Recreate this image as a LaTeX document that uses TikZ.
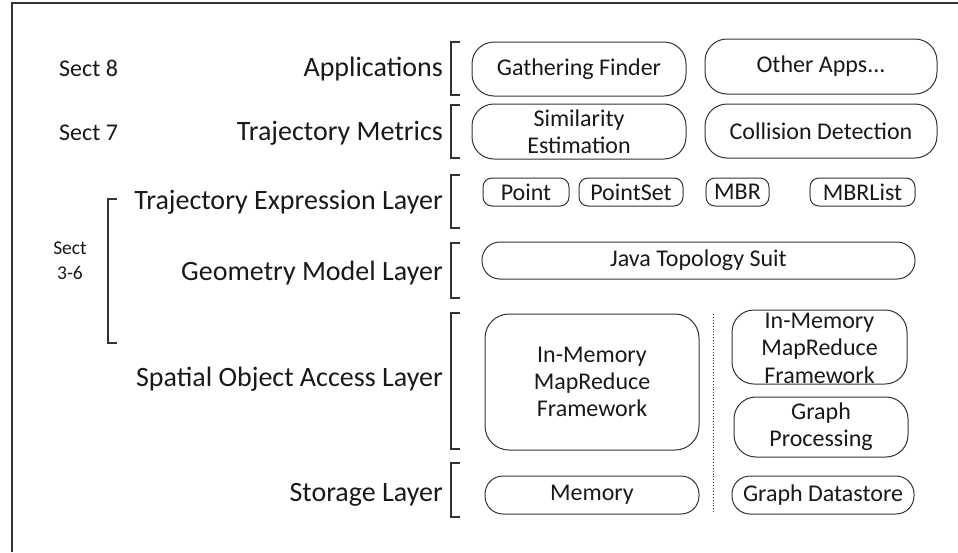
\documentclass[tikz,border=0pt]{standalone}
\usepackage{fontspec}
\setmainfont{Carlito}
\begin{document}
\begin{tikzpicture}[x=1pt,y=-1pt,
  ink/.style={color=black!90},
  layerlabel/.style={ink, anchor=base east, inner sep=0pt, font=\fontsize{28}{32}\selectfont},
  sectlabel/.style={ink, anchor=base west, inner sep=0pt, font=\fontsize{24}{28}\selectfont},
  smallsect/.style={ink, anchor=base, inner sep=0pt, font=\fontsize{19.5}{24}\selectfont},
  bracketline/.style={draw=black!80, line width=1.3pt},
  box/.style={draw=black!80, line width=1pt, rounded corners=#1, inner sep=0pt,
    align=center, text=black!90, font=\fontsize{24}{27}\selectfont},
  box/.default=20pt,
  boxtext/.style={inner sep=0pt, align=center, text=black!90, font=\fontsize{24}{27.5}\selectfont},
]
\useasboundingbox (0,0) rectangle (958,552);

% outer frame (left and top edges)
\draw[black!80, line width=2pt] (12,552) -- (12,3) -- (958,3);

% section labels
\node[sectlabel] (s8) at (59,76) {Sect 8};
\node[sectlabel] (s7) at (59,140) {Sect 7};
\node[smallsect] (s36a) at (70,254) {Sect};
\node[smallsect] (s36b) at (70,279) {3-6};
\draw[bracketline] (117,199) -- (108,199) -- (108,343) -- (117,343);

% layer labels
\node[layerlabel] (lapp) at (443,76) {Applications};
\node[layerlabel] (lmet) at (443,140) {Trajectory Metrics};
\node[layerlabel] (lexp) at (443,209) {Trajectory Expression Layer};
\node[layerlabel] (lgeo) at (443,280) {Geometry Model Layer};
\node[layerlabel] (lspa) at (443,386) {Spatial Object Access Layer};
\node[layerlabel] (lsto) at (443,501) {Storage Layer};

% layer brackets
\foreach \a/\b in {42/95, 105/158, 175/228, 243/298, 313/449, 463/517}
  \draw[bracketline] (460,\a) -- (451,\a) -- (451,\b) -- (460,\b);

% applications
\node[box=22pt, minimum width=214pt, minimum height=54pt] (gath) at (579,69) {Gathering Finder};
\node[box=22pt, minimum width=232pt, minimum height=55pt] (other) at (821,66.5) {Other Apps...};

% trajectory metrics
\node[box=22pt, minimum width=214pt, minimum height=55pt] (sim) at (579,131.5) {Similarity\\Estimation};
\node[box=22pt, minimum width=232pt, minimum height=54pt] (coll) at (821,131) {Collision Detection};

% trajectory expression
\node[box=9pt, minimum width=86pt, minimum height=28pt] (point) at (526,192) {Point};
\node[box=9pt, minimum width=104pt, minimum height=28pt] (pset) at (631,192) {PointSet};
\node[box=9pt, minimum width=63pt, minimum height=28pt] (mbr) at (737.5,192) {MBR};
\node[box=9pt, minimum width=105pt, minimum height=28pt] (mbrl) at (862.5,192) {MBRList};

% geometry model
\node[box=18pt, minimum width=433pt, minimum height=37pt] (jts) at (698.5,260.5) {Java Topology Suit};

% spatial object access
\node[box=24pt, minimum width=214pt, minimum height=136pt] (imL) at (592,382) {In-Memory\\MapReduce\\Framework};
\node[box=22pt, minimum width=175pt, minimum height=74pt] (imR) at (819.5,347) {};
\node[boxtext] (imRt) at ([yshift=-1pt]imR.center) {In-Memory\\MapReduce\\Framework};
\node[box=22pt, minimum width=174pt, minimum height=60pt] (gp) at (821,427) {Graph\\Processing};

% storage
\node[box=18pt, minimum width=214pt, minimum height=38pt] (mem) at (592,495) {Memory};
\node[box=18pt, minimum width=182pt, minimum height=38pt] (gds) at (823,495) {Graph Datastore};

% separator
\coordinate (septop) at (713,314);
\coordinate (sepbot) at (713,514);
\draw[black!80, line width=0.9pt, dotted] (septop) -- (sepbot);
\end{tikzpicture}
\end{document}
